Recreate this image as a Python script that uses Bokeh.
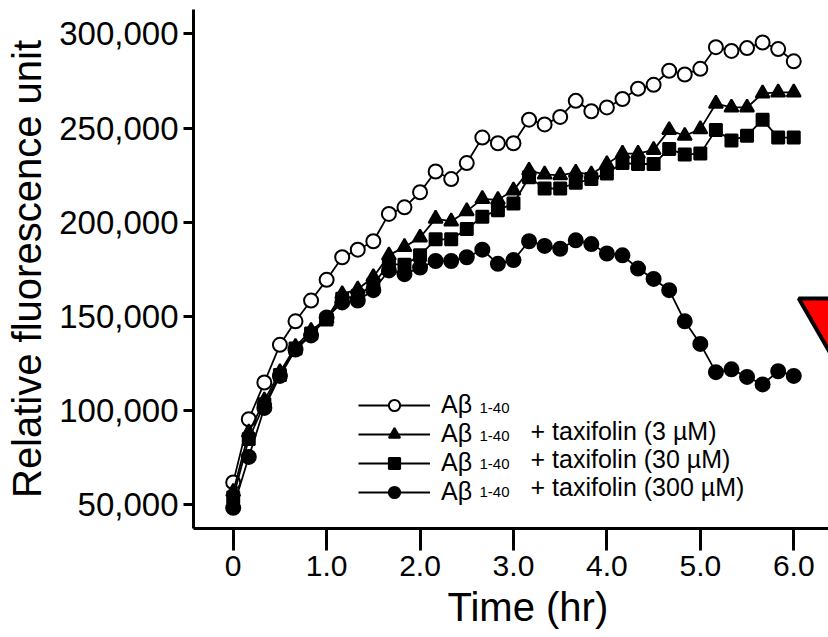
from bokeh.plotting import figure
from bokeh.models import (Range1d, FixedTicker, NumeralTickFormatter, Legend,
                          LegendItem, Label, Title)
from bokeh.embed import file_html
from bokeh.resources import INLINE

# ---------------- data ----------------
time_min = [0, 10, 20, 30, 40, 50, 60, 70, 80, 90, 100, 110, 120, 130, 140, 150,
            160, 170, 180, 190, 200, 210, 220, 230, 240, 250, 260, 270, 280, 290,
            300, 310, 320, 330, 340, 350, 360]
time_hr = [m / 60 for m in time_min]

abeta = [62000, 95500, 115000, 135000, 147500, 158500, 169500, 181500, 185500,
         190000, 204500, 208000, 216000, 227000, 223000, 231500, 245000, 242000,
         242000, 254500, 252000, 256000, 264500, 259000, 261000, 265500, 271000,
         273000, 280500, 278500, 281500, 293000, 291000, 292500, 295500, 292000,
         285500]
taxi_3 = [57000, 88500, 105500, 120500, 134000, 142500, 149000, 162000, 164500,
          171000, 182500, 187000, 192000, 202000, 200500, 206000, 212500, 212000,
          217000, 227500, 225500, 225000, 226500, 225500, 231000, 236500, 236500,
          238500, 249000, 246000, 249500, 263000, 261000, 261000, 268500, 269000,
          269000]
taxi_30 = [54000, 85000, 103500, 119000, 133000, 141000, 148500, 159500, 161000,
           167000, 178000, 177500, 182500, 191000, 191000, 196500, 203000, 206500,
           210000, 224000, 218000, 218000, 221000, 223000, 226000, 231500, 231000,
           231000, 239000, 236000, 236500, 249000, 243500, 246000, 254500, 245000,
           245000]
taxi_300 = [48500, 75500, 101500, 118500, 132500, 140000, 149500, 157500, 158500,
            164000, 174500, 172500, 176000, 179500, 179500, 181500, 185500, 178000,
            180000, 190000, 187500, 186000, 190500, 188500, 183500, 182500, 175500,
            170000, 164000, 147500, 135500, 120500, 122000, 118000, 114000, 121000,
            118500]

x_ticks = [0, 1, 2, 3, 4, 5, 6]
x_tick_labels = ["0", "1.0", "2.0", "3.0", "4.0", "5.0", "6.0"]
y_ticks = [50000, 100000, 150000, 200000, 250000, 300000]

x_title = "Time (hr)"
y_title = "Relative fluorescence unit"
legend_main = "A\u03b2"
legend_sub = "1-40"
legend_suffix = ["", "+ taxifolin (3 \u00b5M)", "+ taxifolin (30 \u00b5M)",
                 "+ taxifolin (300 \u00b5M)"]

# cropped red pointer visible at the right edge of the reference
pointer_x = [6.61]
pointer_y = [143700]

FONT = "Liberation Sans"

p = figure(width=828, height=637, output_backend="svg", toolbar_location=None,
           x_range=Range1d(-0.425, 6.372), y_range=Range1d(37520, 313000),
           min_border_left=193, min_border_right=0, min_border_top=9,
           min_border_bottom=109)
p.outline_line_color = None
p.grid.visible = False
p.background_fill_color = "white"
p.border_fill_color = "white"

for ax in p.axis:
    ax.axis_line_width = 3
    ax.axis_line_color = "black"
    ax.major_tick_line_width = 3
    ax.major_tick_line_color = "black"
    ax.minor_tick_line_color = None
    ax.major_tick_in = 0
    ax.major_label_text_font = FONT
    ax.major_label_text_color = "black"
    ax.axis_label_text_font = FONT
    ax.axis_label_text_font_size = "40px"
    ax.axis_label_text_font_style = "normal"
    ax.axis_label_text_color = "black"

p.xaxis.ticker = FixedTicker(ticks=x_ticks)
p.xaxis.major_label_overrides = {t: l for t, l in zip(x_ticks, x_tick_labels)}
p.xaxis.major_tick_out = 22
p.xaxis.major_label_standoff = 5
p.xaxis.major_label_text_font_size = "30px"

p.yaxis.ticker = FixedTicker(ticks=y_ticks)
p.yaxis.formatter = NumeralTickFormatter(format="0,0")
p.yaxis.major_tick_out = 10
p.yaxis.major_label_standoff = 5
p.yaxis.major_label_text_font_size = "33px"
p.yaxis.axis_label = y_title
p.yaxis.axis_label_standoff = 7

p.add_layout(Title(text=x_title, align="left", offset=254, standoff=9,
                   text_font=FONT, text_font_size="40px",
                   text_font_style="normal", text_color="black"), "below")

series = [
    (abeta, "circle", "white", 14),
    (taxi_3, "triangle", "black", 14),
    (taxi_30, "square", "black", 12),
    (taxi_300, "circle", "black", 14),
]

items = []
for ys, marker, fill, size in series:
    ln = p.line(time_hr, ys, line_color="black", line_width=1.8)
    sc = p.scatter(time_hr, ys, marker=marker, size=size, fill_color=fill,
                   line_color="black", line_width=2)
    items.append(LegendItem(label=legend_main, renderers=[ln, sc]))

p.scatter(pointer_x, pointer_y, marker="inverted_triangle", size=104,
          fill_color="red", line_color="black", line_width=4)

legend = Legend(items=items, location=(165, 22), orientation="vertical",
                glyph_width=72, glyph_height=28, label_height=28, label_width=0,
                spacing=0, padding=0, margin=0, label_standoff=11,
                border_line_color=None, background_fill_alpha=0,
                label_text_font=FONT, label_text_font_size="25px",
                label_text_color="black")
p.add_layout(legend, "center")

suffix_baselines = [126, 98, 70, 42]
sub_baselines = [121, 93, 65, 37]
for yb, ys_, suffix in zip(suffix_baselines, sub_baselines, legend_suffix):
    p.add_layout(Label(x=286, y=ys_, x_units="screen", y_units="screen",
                       text=legend_sub, text_font=FONT, text_font_size="15px",
                       text_color="black", text_baseline="alphabetic"))
    if suffix:
        p.add_layout(Label(x=337, y=yb, x_units="screen", y_units="screen",
                           text=suffix, text_font=FONT, text_font_size="25px",
                           text_color="black", text_baseline="alphabetic"))

open("out.html", "w").write(file_html(p, INLINE))
